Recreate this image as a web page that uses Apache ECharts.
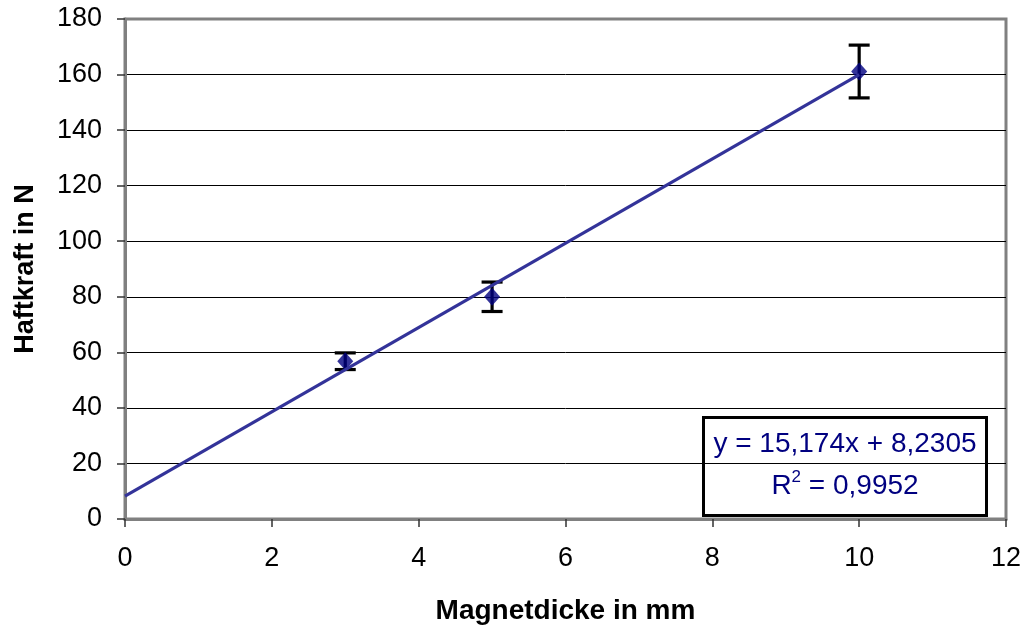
<!DOCTYPE html>
<html>
<head>
<meta charset="utf-8">
<title>Haftkraft über Magnetdicke</title>
<script src="https://cdn.jsdelivr.net/npm/echarts@6/dist/echarts.min.js"></script>
<style>
  html, body { margin: 0; padding: 0; background: #fff; }
  #chart { width: 1028px; height: 630px; }
</style>
</head>
<body>
<div id="chart"></div>
<script>
// Messwerte: Magnetdicke (mm), mittlere Haftkraft (N) und Streuung (± N)
const thickness = [3, 5, 10];
const force = [56.8, 80.0, 161.1];
const spread = [3.0, 5.3, 9.5];

// Lineare Regression (aus der Auswertung)
const slope = 15.174;
const intercept = 8.2305;
const rSquared = 0.9952;

// Achsen
const xTicks = [0, 2, 4, 6, 8, 10, 12];
const yTicks = [0, 20, 40, 60, 80, 100, 120, 140, 160, 180];

const FONT = "'Liberation Sans', Arial, sans-serif";
const deNum = v => String(v).replace('.', ',');

const points = thickness.map((x, i) => [x, force[i]]);
const bars = thickness.map((x, i) => [x, force[i] - spread[i], force[i] + spread[i]]);
const xFitEnd = thickness[thickness.length - 1];
const fitLine = [[0, intercept], [xFitEnd, slope * xFitEnd + intercept]];

function renderErrorBar(params, api) {
  const x = api.value(0);
  const top = api.coord([x, api.value(2)]);
  const bot = api.coord([x, api.value(1)]);
  const half = 10.5;
  const style = { stroke: '#000', lineWidth: 3.2 };
  return {
    type: 'group',
    children: [
      { type: 'line', shape: { x1: top[0], y1: top[1], x2: bot[0], y2: bot[1] }, style },
      { type: 'line', shape: { x1: top[0] - half, y1: top[1], x2: top[0] + half, y2: top[1] }, style },
      { type: 'line', shape: { x1: bot[0] - half, y1: bot[1], x2: bot[0] + half, y2: bot[1] }, style }
    ]
  };
}

// Gitterlinien schwarz, oberste Linie fällt mit dem grauen Rahmen zusammen
const gridColors = yTicks.map((v, i) => (i === yTicks.length - 1 ? '#808080' : '#000'));

const chart = echarts.init(document.getElementById('chart'), null, { renderer: 'canvas' });
chart.setOption({
  animation: false,
  backgroundColor: '#fff',
  textStyle: { fontFamily: FONT },
  grid: {
    left: 125, right: 22, top: 19, bottom: 109,
    show: true, borderColor: '#808080', borderWidth: 3, backgroundColor: '#fff'
  },
  xAxis: {
    type: 'value',
    min: xTicks[0], max: xTicks[xTicks.length - 1], interval: xTicks[1] - xTicks[0],
    name: 'Magnetdicke in mm',
    nameLocation: 'middle',
    nameGap: 78,
    nameTextStyle: { fontFamily: FONT, fontSize: 28, fontWeight: 'bold', color: '#000' },
    axisLine: { show: true, onZero: false, lineStyle: { color: '#808080', width: 3 } },
    axisTick: { show: true, length: 8, lineStyle: { color: '#333', width: 1.5 } },
    axisLabel: { fontFamily: FONT, fontSize: 27, color: '#000', margin: 26 },
    splitLine: { show: false }
  },
  yAxis: {
    type: 'value',
    min: yTicks[0], max: yTicks[yTicks.length - 1], interval: yTicks[1] - yTicks[0],
    name: 'Haftkraft in N',
    nameLocation: 'middle',
    nameGap: 86,
    nameTextStyle: { fontFamily: FONT, fontSize: 27, fontWeight: 'bold', color: '#000' },
    axisLine: { show: true, onZero: false, lineStyle: { color: '#808080', width: 3 } },
    axisTick: { show: true, length: 8, lineStyle: { color: '#333', width: 1.5 } },
    axisLabel: { fontFamily: FONT, fontSize: 27, color: '#000', margin: 23 },
    splitLine: { show: true, lineStyle: { color: gridColors, width: 1 } }
  },
  series: [
    {
      type: 'custom',
      name: 'Streuung',
      renderItem: renderErrorBar,
      data: bars,
      encode: { x: 0, y: [1, 2] },
      z: 3
    },
    {
      type: 'scatter',
      name: 'Haftkraft',
      data: points,
      symbol: 'diamond',
      symbolSize: [16, 18],
      itemStyle: { color: '#000080' },
      z: 4
    },
    {
      type: 'line',
      name: 'Linear',
      data: fitLine,
      showSymbol: false,
      symbol: 'none',
      lineStyle: { color: '#333399', width: 3.2 },
      z: 5
    }
  ],
  graphic: [
    {
      type: 'group',
      left: 702,
      top: 416,
      z: 10,
      children: [
        {
          type: 'rect',
          shape: { x: 0, y: 0, width: 283, height: 98 },
          style: { fill: '#fff', stroke: '#000', lineWidth: 3 }
        },
        {
          type: 'text',
          x: 141.5, y: 27,
          style: {
            text: 'y = ' + deNum(slope) + 'x + ' + deNum(intercept),
            fill: '#000080', font: '28px ' + FONT,
            align: 'center', verticalAlign: 'middle'
          }
        },
        {
          type: 'text',
          x: 141.5, y: 67,
          style: {
            text: '{a|R}{s|2}{a| = ' + deNum(rSquared) + '}',
            align: 'center', verticalAlign: 'middle',
            rich: {
              a: { fill: '#000080', fontFamily: FONT, fontSize: 28, lineHeight: 32, verticalAlign: 'bottom' },
              s: { fill: '#000080', fontFamily: FONT, fontSize: 17, lineHeight: 17, verticalAlign: 'top' }
            }
          }
        }
      ]
    }
  ]
});
</script>
</body>
</html>
